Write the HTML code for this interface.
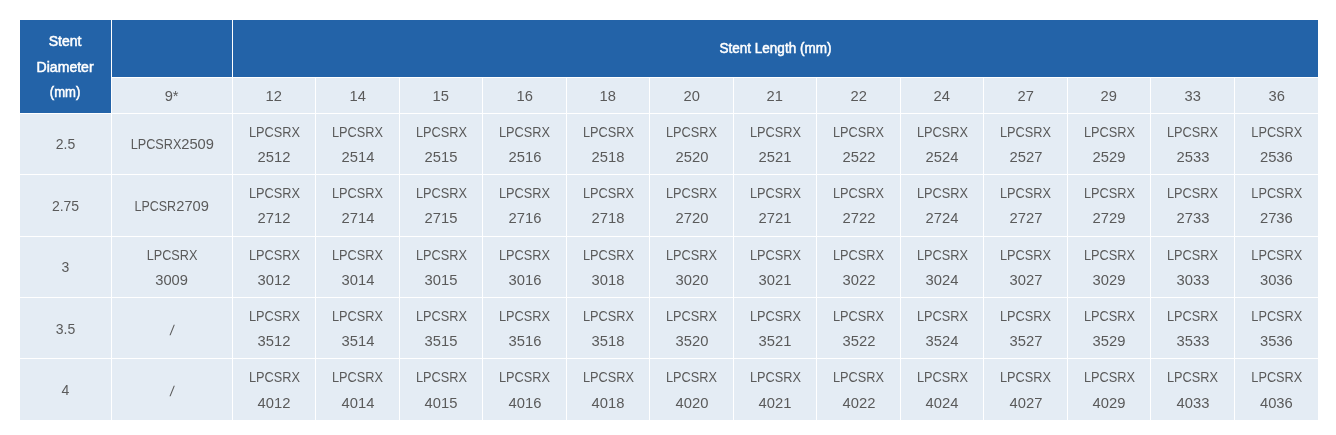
<!DOCTYPE html>
<html lang="en">
<head>
<meta charset="utf-8">
<title>Stent Size Table</title>
<style>
html,body{margin:0;padding:0;background:#fff;}
body{width:1336px;height:435px;overflow:hidden;font-family:"Liberation Sans",sans-serif;font-size:14px;color:#5a5a5a;}
table{position:absolute;left:19px;top:19px;border-collapse:separate;border-spacing:1px;table-layout:fixed;width:1300px;background:#fff;}
td,th{padding:0;margin:0;text-align:center;vertical-align:middle;line-height:25.2px;font-weight:normal;background:#e4ecf4;overflow:hidden;white-space:nowrap;}
th{background:#2363a8;color:#fff;font-weight:normal;-webkit-text-stroke:0.5px #fff;}
td div{position:relative;top:1px;}
span{display:inline-block;transform-origin:50% 50%;}
.a{transform:translateX(.4px) scaleX(.91);margin:0 -2.66px;}
.a5{transform:translateX(.4px) scaleX(.89);margin:0 -2.57px;}
.b{transform:translateX(.4px) scaleX(1.055);margin:0 0.78px;}
.n{transform:scaleX(1.05);}
.d{transform:scaleX(1.0);}
.h1{transform:translateX(-.4px) scaleX(1.0);}
.h2{transform:translateX(-.3px) scaleX(1.005);position:relative;top:1px;}
.h3{transform:translateX(-.2px) scaleX(.935);position:relative;top:1px;}
.hl{transform:translateX(-.5px) scaleX(.965);}
.s{transform:skewX(-8deg);position:relative;top:1px;}
.c0 .a{transform:scaleX(.905);}
.c0 .a5{transform:scaleX(.89);}
.c0 .b{transform:scaleX(1.05);}
.cl .a{transform:translateX(-.2px) scaleX(.91);}
.cl .b{transform:translateX(-.2px) scaleX(1.055);}
tr.r2 .l2{position:relative;top:-1px;}
tr.r4 .d,tr.r4 .s{position:relative;top:1px;}
tr.r4 .s{top:2px;}
</style>
</head>
<body>
<table>
<colgroup>
<col style="width:91px">
<col style="width:120px">
<col style="width:82px">
<col style="width:83px">
<col style="width:82px">
<col style="width:83px">
<col style="width:82px">
<col style="width:83px">
<col style="width:82px">
<col style="width:83px">
<col style="width:82px">
<col style="width:83px">
<col style="width:82px">
<col style="width:83px">
<col style="width:83px">
</colgroup>
<thead>
<tr style="height:57px"><th rowspan="2"><span class="h1">Stent</span><br><span class="h2">Diameter</span><br><span class="h3">(mm)</span></th><th></th><th colspan="13"><span class="hl">Stent Length (mm)</span></th></tr>
<tr style="height:35px"><td><div><span class="n">9*</span></div></td><td><div><span class="n">12</span></div></td><td><div><span class="n">14</span></div></td><td><div><span class="n">15</span></div></td><td><div><span class="n">16</span></div></td><td><div><span class="n">18</span></div></td><td><div><span class="n">20</span></div></td><td><div><span class="n">21</span></div></td><td><div><span class="n">22</span></div></td><td><div><span class="n">24</span></div></td><td><div><span class="n">27</span></div></td><td><div><span class="n">29</span></div></td><td><div><span class="n">33</span></div></td><td><div><span class="n">36</span></div></td></tr>
</thead>
<tbody>
<tr class="r1" style="height:60px"><td><div><span class="d">2.5</span></div></td><td class="c0"><div><span class="a">LPCSRX</span><span class="b">2509</span></div></td><td><div><span class="a">LPCSRX</span><br><span class="b l2">2512</span></div></td><td><div><span class="a">LPCSRX</span><br><span class="b l2">2514</span></div></td><td><div><span class="a">LPCSRX</span><br><span class="b l2">2515</span></div></td><td><div><span class="a">LPCSRX</span><br><span class="b l2">2516</span></div></td><td><div><span class="a">LPCSRX</span><br><span class="b l2">2518</span></div></td><td><div><span class="a">LPCSRX</span><br><span class="b l2">2520</span></div></td><td><div><span class="a">LPCSRX</span><br><span class="b l2">2521</span></div></td><td><div><span class="a">LPCSRX</span><br><span class="b l2">2522</span></div></td><td><div><span class="a">LPCSRX</span><br><span class="b l2">2524</span></div></td><td><div><span class="a">LPCSRX</span><br><span class="b l2">2527</span></div></td><td><div><span class="a">LPCSRX</span><br><span class="b l2">2529</span></div></td><td><div><span class="a">LPCSRX</span><br><span class="b l2">2533</span></div></td><td class="cl"><div><span class="a">LPCSRX</span><br><span class="b l2">2536</span></div></td></tr>
<tr class="r2" style="height:61px"><td><div><span class="d">2.75</span></div></td><td class="c0"><div><span class="a a5">LPCSR</span><span class="b">2709</span></div></td><td><div><span class="a">LPCSRX</span><br><span class="b l2">2712</span></div></td><td><div><span class="a">LPCSRX</span><br><span class="b l2">2714</span></div></td><td><div><span class="a">LPCSRX</span><br><span class="b l2">2715</span></div></td><td><div><span class="a">LPCSRX</span><br><span class="b l2">2716</span></div></td><td><div><span class="a">LPCSRX</span><br><span class="b l2">2718</span></div></td><td><div><span class="a">LPCSRX</span><br><span class="b l2">2720</span></div></td><td><div><span class="a">LPCSRX</span><br><span class="b l2">2721</span></div></td><td><div><span class="a">LPCSRX</span><br><span class="b l2">2722</span></div></td><td><div><span class="a">LPCSRX</span><br><span class="b l2">2724</span></div></td><td><div><span class="a">LPCSRX</span><br><span class="b l2">2727</span></div></td><td><div><span class="a">LPCSRX</span><br><span class="b l2">2729</span></div></td><td><div><span class="a">LPCSRX</span><br><span class="b l2">2733</span></div></td><td class="cl"><div><span class="a">LPCSRX</span><br><span class="b l2">2736</span></div></td></tr>
<tr class="r3" style="height:60px"><td><div><span class="d">3</span></div></td><td class="c0"><div><span class="a">LPCSRX</span><br><span class="b l2">3009</span></div></td><td><div><span class="a">LPCSRX</span><br><span class="b l2">3012</span></div></td><td><div><span class="a">LPCSRX</span><br><span class="b l2">3014</span></div></td><td><div><span class="a">LPCSRX</span><br><span class="b l2">3015</span></div></td><td><div><span class="a">LPCSRX</span><br><span class="b l2">3016</span></div></td><td><div><span class="a">LPCSRX</span><br><span class="b l2">3018</span></div></td><td><div><span class="a">LPCSRX</span><br><span class="b l2">3020</span></div></td><td><div><span class="a">LPCSRX</span><br><span class="b l2">3021</span></div></td><td><div><span class="a">LPCSRX</span><br><span class="b l2">3022</span></div></td><td><div><span class="a">LPCSRX</span><br><span class="b l2">3024</span></div></td><td><div><span class="a">LPCSRX</span><br><span class="b l2">3027</span></div></td><td><div><span class="a">LPCSRX</span><br><span class="b l2">3029</span></div></td><td><div><span class="a">LPCSRX</span><br><span class="b l2">3033</span></div></td><td class="cl"><div><span class="a">LPCSRX</span><br><span class="b l2">3036</span></div></td></tr>
<tr class="r4" style="height:60px"><td><div><span class="d">3.5</span></div></td><td class="c0"><div><span class="s">/</span></div></td><td><div><span class="a">LPCSRX</span><br><span class="b l2">3512</span></div></td><td><div><span class="a">LPCSRX</span><br><span class="b l2">3514</span></div></td><td><div><span class="a">LPCSRX</span><br><span class="b l2">3515</span></div></td><td><div><span class="a">LPCSRX</span><br><span class="b l2">3516</span></div></td><td><div><span class="a">LPCSRX</span><br><span class="b l2">3518</span></div></td><td><div><span class="a">LPCSRX</span><br><span class="b l2">3520</span></div></td><td><div><span class="a">LPCSRX</span><br><span class="b l2">3521</span></div></td><td><div><span class="a">LPCSRX</span><br><span class="b l2">3522</span></div></td><td><div><span class="a">LPCSRX</span><br><span class="b l2">3524</span></div></td><td><div><span class="a">LPCSRX</span><br><span class="b l2">3527</span></div></td><td><div><span class="a">LPCSRX</span><br><span class="b l2">3529</span></div></td><td><div><span class="a">LPCSRX</span><br><span class="b l2">3533</span></div></td><td class="cl"><div><span class="a">LPCSRX</span><br><span class="b l2">3536</span></div></td></tr>
<tr class="r5" style="height:61px"><td><div><span class="d">4</span></div></td><td class="c0"><div><span class="s">/</span></div></td><td><div><span class="a">LPCSRX</span><br><span class="b l2">4012</span></div></td><td><div><span class="a">LPCSRX</span><br><span class="b l2">4014</span></div></td><td><div><span class="a">LPCSRX</span><br><span class="b l2">4015</span></div></td><td><div><span class="a">LPCSRX</span><br><span class="b l2">4016</span></div></td><td><div><span class="a">LPCSRX</span><br><span class="b l2">4018</span></div></td><td><div><span class="a">LPCSRX</span><br><span class="b l2">4020</span></div></td><td><div><span class="a">LPCSRX</span><br><span class="b l2">4021</span></div></td><td><div><span class="a">LPCSRX</span><br><span class="b l2">4022</span></div></td><td><div><span class="a">LPCSRX</span><br><span class="b l2">4024</span></div></td><td><div><span class="a">LPCSRX</span><br><span class="b l2">4027</span></div></td><td><div><span class="a">LPCSRX</span><br><span class="b l2">4029</span></div></td><td><div><span class="a">LPCSRX</span><br><span class="b l2">4033</span></div></td><td class="cl"><div><span class="a">LPCSRX</span><br><span class="b l2">4036</span></div></td></tr>
</tbody>
</table>
</body>
</html>
